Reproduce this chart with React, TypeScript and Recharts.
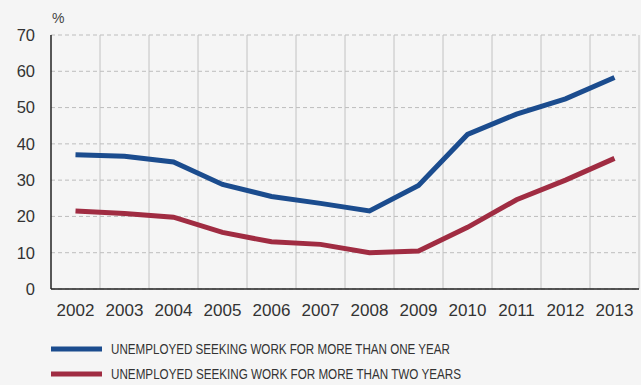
import { LineChart, Line, XAxis, YAxis, CartesianGrid } from 'recharts';

const years = ['2002', '2003', '2004', '2005', '2006', '2007', '2008', '2009', '2010', '2011', '2012', '2013'];
const moreThanOneYear = [37, 36.6, 35, 28.8, 25.5, 23.6, 21.5, 28.5, 42.6, 48.2, 52.4, 58.3];
const moreThanTwoYears = [21.5, 20.8, 19.8, 15.6, 13, 12.3, 10, 10.5, 17, 24.6, 30, 36];
const yTicks = [0, 10, 20, 30, 40, 50, 60, 70];

const seriesNames = ['UNEMPLOYED SEEKING WORK FOR MORE THAN ONE YEAR', 'UNEMPLOYED SEEKING WORK FOR MORE THAN TWO YEARS'];
const seriesColors = ['#1b4c8e', '#a02c42'];
const legendWidths = [339, 350];

const data = years.map((y, i) => ({
  year: y,
  one: moreThanOneYear[i],
  two: moreThanTwoYears[i],
}));

const font = '"Liberation Sans", Arial, sans-serif';

// legend drawn by hand, recharts Legend kept pushing the plot up
function ChartLegend() {
  return (
    <svg width={641} height={50} style={{ position: 'absolute', left: 0, top: 338 }}>
      {seriesNames.map((name, i) => (
        <g key={name}>
          <line x1={51} x2={102} y1={11 + i * 25} y2={11 + i * 25} stroke={seriesColors[i]} strokeWidth={5} />
          <text
            x={111}
            y={16 + i * 25}
            fontSize={14}
            fill="#333"
            fontFamily={font}
            textLength={legendWidths[i]}
            lengthAdjust="spacingAndGlyphs"
          >
            {name}
          </text>
        </g>
      ))}
    </svg>
  );
}

export default function App() {
  return (
    <div style={{ position: 'absolute', left: 0, top: 0, width: 641, height: 385, background: '#f5f5f5' }}>
      <LineChart width={641} height={385} data={data} margin={{ top: 35, right: 2, left: 0, bottom: 66 }}>
        <CartesianGrid vertical={false} stroke="#bdbdbd" strokeDasharray="4 3" />
        <CartesianGrid
          horizontal={false}
          stroke="#c2c2c2"
          verticalCoordinatesGenerator={({ offset }: any) =>
            years.map((_, i) => offset.left + ((i + 1) * offset.width) / years.length)
          }
        />
        <XAxis
          dataKey="year"
          scale="band"
          tickLine={false}
          tickSize={0}
          tickMargin={15}
          axisLine={{ stroke: '#222', strokeWidth: 1.5 }}
          tick={{ fill: '#333', fontSize: 17, fontFamily: font }}
          interval={0}
          height={30}
        />
        <YAxis
          domain={[0, 70]}
          ticks={yTicks}
          width={51}
          tickLine={false}
          tickSize={0}
          tickMargin={16}
          axisLine={{ stroke: '#222', strokeWidth: 1.5 }}
          tick={{ fill: '#333', fontSize: 16.5, fontFamily: font }}
          label={{
            content: ({ viewBox }: any) => (
              <text x={viewBox.x + viewBox.width + 1} y={viewBox.y - 12} fontSize={14} fill="#444" fontFamily={font}>
                %
              </text>
            ),
          }}
        />
        <Line
          dataKey="one"
          name={seriesNames[0]}
          stroke={seriesColors[0]}
          strokeWidth={5}
          dot={false}
          activeDot={false}
          isAnimationActive={false}
        />
        <Line
          dataKey="two"
          name={seriesNames[1]}
          stroke={seriesColors[1]}
          strokeWidth={5}
          dot={false}
          activeDot={false}
          isAnimationActive={false}
        />
      </LineChart>
      <ChartLegend />
    </div>
  );
}
